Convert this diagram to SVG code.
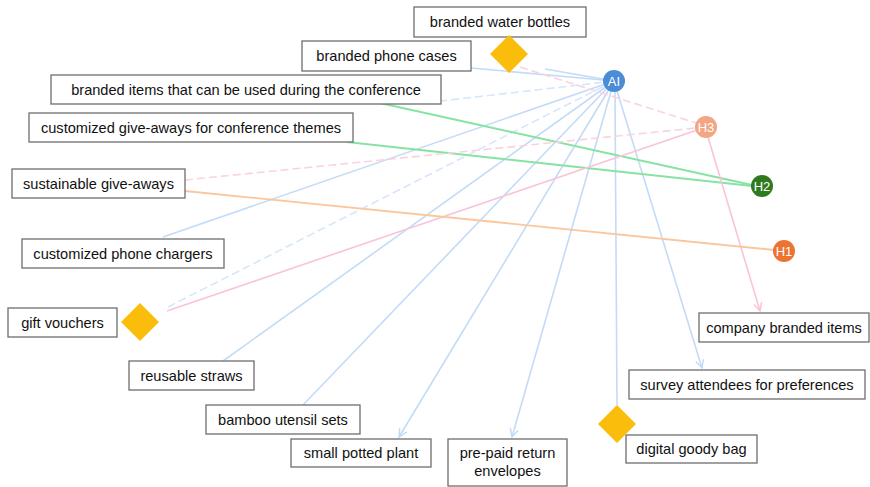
<svg xmlns="http://www.w3.org/2000/svg" width="870" height="487" viewBox="0 0 870 487">
<style>
.box{fill:#fff;stroke:#6e6e6e;stroke-width:1.3}
.lbl{font-family:"Liberation Sans",Arial,sans-serif;font-size:14.6px;fill:#111;text-anchor:middle}
.nl{font-family:"Liberation Sans",Arial,sans-serif;font-size:13px;fill:#fff;text-anchor:middle}
.dia{fill:#fbbd0b}
.e{fill:none;stroke-width:1.6}
.b{stroke:#c3dbf7}
.bd{stroke:#d6e6fb;stroke-dasharray:8 4}
.g{stroke:#86e3a3;stroke-width:1.9}
.p{stroke:#f9c4d7}
.pd{stroke:#fad3df;stroke-dasharray:8 4}
.o{stroke:#fbc69c;stroke-width:1.9}
</style>
<defs>
<marker id="ab" markerUnits="userSpaceOnUse" markerWidth="12" markerHeight="12" refX="9" refY="5" orient="auto"><path d="M1,1 L9,5 L1,9" fill="none" stroke="#c3dbf7" stroke-width="1.5"/></marker>
<marker id="ap" markerUnits="userSpaceOnUse" markerWidth="12" markerHeight="12" refX="9" refY="5" orient="auto"><path d="M1,1 L9,5 L1,9" fill="none" stroke="#f9c4d7" stroke-width="1.5"/></marker>
</defs>
<g id="connectors">
<path class="e b" d="M614,81 L471,68"/>
<path class="e b" d="M614,81 L545,69"/>
<path class="e b" d="M614,81 L163,237"/>
<path class="e b" d="M614,81 L223,361"/>
<path class="e b" d="M614,81 L303,405"/>
<path class="e b" d="M614,81 L399,437" marker-end="url(#ab)"/>
<path class="e b" d="M614,81 L512,437" marker-end="url(#ab)"/>
<path class="e b" d="M615,92 L617,405"/>
<path class="e b" d="M614,81 L702,368" marker-end="url(#ab)"/>
<path class="e bd" d="M614,81 L441,101"/>
<path class="e bd" d="M614,81 L164,309"/>
<path class="e g" d="M380,103 L752,185"/>
<path class="e g" d="M347,142 L752,186"/>
<path class="e pd" d="M520,67 L696,123"/>
<path class="e pd" d="M185,180 L696,128"/>
<path class="e p" d="M706,127 L167,311"/>
<path class="e p" d="M708,137 L760,311" marker-end="url(#ap)"/>
<path class="e o" d="M185,191 L774,250"/>
</g>
<g id="n-water"><rect class="box" x="414" y="7" width="172" height="30"/><text class="lbl" x="500" y="27">branded water bottles</text></g>
<g id="n-phonecases"><rect class="box" x="302" y="41" width="169" height="30"/><text class="lbl" x="386.5" y="61">branded phone cases</text></g>
<g id="n-branded"><rect class="box" x="51" y="75" width="390" height="29"/><text class="lbl" x="246" y="94.5">branded items that can be used during the conference</text></g>
<g id="n-custom"><rect class="box" x="29" y="113" width="324" height="29"/><text class="lbl" x="191" y="132.5">customized give-aways for conference themes</text></g>
<g id="n-sustain"><rect class="box" x="12" y="169" width="173" height="29"/><text class="lbl" x="98.5" y="188.5">sustainable give-aways</text></g>
<g id="n-chargers"><rect class="box" x="22" y="239" width="202" height="29"/><text class="lbl" x="123" y="258.5">customized phone chargers</text></g>
<g id="n-gift"><rect class="box" x="8" y="308" width="109" height="29"/><text class="lbl" x="62.5" y="327.5">gift vouchers</text></g>
<g id="n-straws"><rect class="box" x="129" y="361" width="125" height="29"/><text class="lbl" x="191.5" y="380.5">reusable straws</text></g>
<g id="n-bamboo"><rect class="box" x="206" y="405" width="154" height="29"/><text class="lbl" x="283" y="424.5">bamboo utensil sets</text></g>
<g id="n-plant"><rect class="box" x="291" y="439" width="140" height="28"/><text class="lbl" x="361" y="458">small potted plant</text></g>
<g id="n-prepaid"><rect class="box" x="448" y="439" width="119" height="47"/><text class="lbl" x="507.5" y="458">pre-paid return</text><text class="lbl" x="507.5" y="476">envelopes</text></g>
<g id="n-company"><rect class="box" x="699" y="313" width="170" height="29"/><text class="lbl" x="784" y="332.5">company branded items</text></g>
<g id="n-survey"><rect class="box" x="629" y="370" width="236" height="29"/><text class="lbl" x="747" y="389.5">survey attendees for preferences</text></g>
<g id="n-digital"><rect class="box" x="626" y="435" width="131" height="28"/><text class="lbl" x="691.5" y="454">digital goody bag</text></g>
<g id="d-water"><polygon class="dia" points="509,35 528,54 509,73 490,54"/></g>
<g id="d-gift"><polygon class="dia" points="140,303 159,322 140,341 121,322"/></g>
<g id="d-digital"><polygon class="dia" points="617,405 636,424 617,443 598,424"/></g>
<g id="AI"><circle cx="614" cy="81" r="11" fill="#4a8cd6"/><text class="nl" x="614" y="85.5">AI</text></g>
<g id="H3"><circle cx="706" cy="127" r="11" fill="#f3a683"/><text class="nl" x="706" y="131.5">H3</text></g>
<g id="H2"><circle cx="762" cy="186" r="11" fill="#2f7a1f"/><text class="nl" x="762" y="190.5">H2</text></g>
<g id="H1"><circle cx="784" cy="251" r="11" fill="#ec7331"/><text class="nl" x="784" y="255.5">H1</text></g>
</svg>
